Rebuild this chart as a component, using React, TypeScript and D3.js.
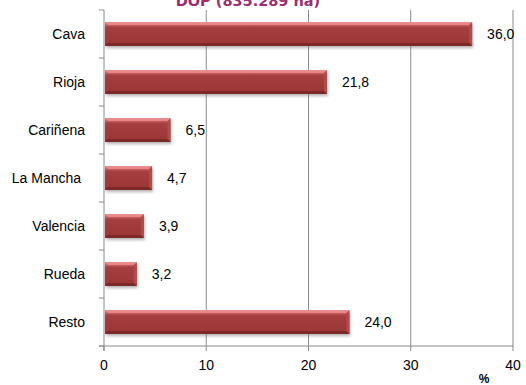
import React from "react";
import * as d3 from "d3";

const categories = ["Cava", "Rioja", "Cariñena", "La Mancha ", "Valencia", "Rueda", "Resto"];
const values = [36.0, 21.8, 6.5, 4.7, 3.9, 3.2, 24.0];
const valueLabels = ["36,0", "21,8", "6,5", "4,7", "3,9", "3,2", "24,0"];
const xTicks = [0, 10, 20, 30, 40];
const title = "DOP (835.289 ha)";
const unit = "%";

const W = 526, H = 385;
const left = 104, right = 513, top = 10, bottom = 346;

export default function App() {
  const x = d3.scaleLinear().domain([0, 40]).range([left, right]);
  const y = d3.scaleBand<string>().domain(categories).range([top, bottom]).paddingInner(0.5).paddingOuter(0.25);
  const bw = y.bandwidth();
  const step = y.step();
  const font = "'Liberation Sans', Arial, sans-serif";
  const bev = 3;
  return (
    <svg width={W} height={H} style={{ position: "absolute", left: 0, top: 0, background: "#fff" }}>
      <defs>
        <linearGradient id="barg" x1="0" y1="0" x2="0" y2="1">
          <stop offset="0" stopColor="#e68484" />
          <stop offset="0.12" stopColor="#cf6262" />
          <stop offset="0.22" stopColor="#a63f3f" />
          <stop offset="0.85" stopColor="#9c3838" />
          <stop offset="1" stopColor="#7e2a2a" />
        </linearGradient>
        <filter id="shadow" x="-5%" y="-20%" width="110%" height="160%">
          <feGaussianBlur stdDeviation="1.5" />
        </filter>
      </defs>
      <text x={248} y={6} textAnchor="middle" fontFamily="'DejaVu Sans', sans-serif" fontWeight="bold" fontSize={14.5} fill="#9b2d6e">{title}</text>
      {xTicks.slice(1).map((t) => (
        <line key={t} x1={x(t)} x2={x(t)} y1={top} y2={bottom} stroke="#8a8a8a" strokeWidth={1} />
      ))}
      {/* y axis */}
      <line x1={left} x2={left} y1={top} y2={bottom + 5} stroke="#8a8a8a" />
      {d3.range(categories.length + 1).map((i) => {
        const yy = top + i * step;
        return <line key={i} x1={left - 5} x2={left} y1={yy} y2={yy} stroke="#8a8a8a" />;
      })}
      {/* x axis */}
      <line x1={left - 5} x2={right} y1={bottom} y2={bottom} stroke="#8a8a8a" />
      {xTicks.map((t) => (
        <line key={t} x1={x(t)} x2={x(t)} y1={bottom} y2={bottom + 5} stroke="#8a8a8a" />
      ))}
      {xTicks.map((t) => (
        <text key={t} x={x(t)} y={370} textAnchor="middle" fontFamily={font} fontSize={14} fill="#000">{t}</text>
      ))}
      <text x={484} y={383} textAnchor="middle" fontFamily={font} fontWeight="bold" fontSize={12} fill="#000">{unit}</text>
      {categories.map((c, i) => {
        const y0 = y(c)!;
        const x0 = x(0) + 1;
        const x1 = x(values[i]);
        return (
          <g key={c}>
            <rect x={x0 + 1} y={y0 + 2} width={x1 - x0} height={bw} fill="#777" opacity={0.55} filter="url(#shadow)" />
            <rect x={x0} y={y0} width={x1 - x0} height={bw} fill="url(#barg)" />
            <polygon points={`${x1 - bev},${y0 + bev} ${x1},${y0} ${x1},${y0 + bw} ${x1 - bev},${y0 + bw - bev}`} fill="#b24c4c" />
            <polygon points={`${x0},${y0} ${x1},${y0} ${x1 - bev},${y0 + bev} ${x0 + bev},${y0 + bev}`} fill="#e99090" opacity={0.8} />
            <polygon points={`${x0},${y0 + bw} ${x1},${y0 + bw} ${x1 - bev},${y0 + bw - bev} ${x0 + bev},${y0 + bw - bev}`} fill="#7a2626" opacity={0.8} />
            <text x={x1 + 15} y={y0 + bw / 2 + 5} fontFamily={font} fontSize={14} fill="#000">{valueLabels[i]}</text>
            <text x={85} y={y0 + bw / 2 + 5} textAnchor="end" fontFamily={font} fontSize={14} fill="#000" style={{ whiteSpace: "pre" }}>{c}</text>
          </g>
        );
      })}
    </svg>
  );
}
